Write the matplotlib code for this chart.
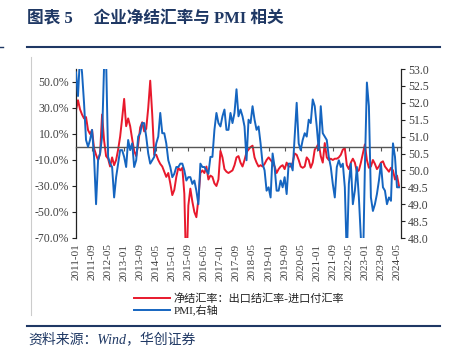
import numpy as np
import pandas as pd
import matplotlib
matplotlib.use("Agg")
import matplotlib.pyplot as plt
from matplotlib.lines import Line2D

#=== Data ===
months = [p.strftime("%Y-%m") for p in pd.period_range("2011-01", "2024-06", freq="M")]

net_settle = [
    28, 36, 29, 25, 22, 23, 13, 10, 13, -1, -6, -10,
    -5, 25, 5, -7, -9, -15, -8, -14, -10, -2, 8, 22,
    37, 16, 22, 16, 6, -3, -7, 2, 15, 19, 12, 14,
    30, 51, 25, -6, -6, -10, -13, -15, -19, -23, -20, -28,
    -37, -33, -23, -16, -18, -16, -36, -100, -45, -32, -42, -50,
    -54, -40, -20, -18, -20, -15, -25, -22, -23, -28, -30, -25,
    -3, -8, -17, -19, -20, -19, -18, -14, -8, -7, -12, -15,
    -10, -4, -2, 0, 1, -8, -12, -15, -14, -15, -13, -10,
    -8, -10, -12, -15, -20, -17, -15, -14, -17, -12, -15, -15,
    -12, -5, -6, -10, -15, -16, -15, -8, -10, -16, -12, -2,
    0, 3, -7, -12, 3, -8, -10, -9, -10, -9, -9, -8,
    -6, -2, -1, -14, -17, -12, -9, -12, -19, -18, -12, -5,
    2, -10, -16, -15, -10, -13, -17, -15, -12, -11, -15, -17,
    -19, -16, -18, -25, -22, -30,
]

pmi = [
    52.9, 52.2, 53.4, 52.9, 52.0, 50.9, 50.7, 50.9, 51.2, 50.4, 49.0, 50.3,
    50.5, 51.0, 53.1, 53.3, 50.4, 50.2, 50.1, 49.2, 49.8, 50.2, 50.6, 50.6,
    50.4, 50.1, 50.9, 50.6, 50.8, 50.1, 50.3, 51.0, 51.1, 51.4, 51.4, 51.0,
    50.5, 50.2, 50.3, 50.4, 50.8, 51.0, 51.7, 51.1, 51.1, 50.8, 50.3, 50.1,
    49.8, 49.9, 50.1, 50.1, 50.2, 50.2, 50.0, 49.7, 49.8, 49.8, 49.6, 49.7,
    49.4, 49.0, 50.2, 50.1, 50.1, 50.0, 49.9, 50.4, 50.4, 51.2, 51.7, 51.4,
    51.3, 51.6, 51.8, 51.2, 51.2, 51.7, 51.4, 51.7, 52.4, 51.6, 51.8, 51.6,
    51.3, 50.3, 51.5, 51.4, 51.9, 51.5, 51.2, 51.3, 50.8, 50.2, 50.0, 49.4,
    49.5, 49.2, 50.5, 50.1, 49.4, 49.4, 49.7, 49.5, 49.8, 49.3, 50.2, 50.2,
    50.0, np.nan, 52.0, 50.8, 50.6, 50.9, 51.1, 51.0, 51.5, 51.4, 52.1, 51.9,
    51.3, 50.6, 51.9, 51.1, 51.0, 50.9, 50.4, 50.1, 49.6, 49.2, 50.1, 50.3,
    50.1, 50.2, 49.5, 47.4, 49.6, 50.2, 49.0, 49.4, 50.1, 49.2, 48.0, 47.0,
    50.1, 52.6, 51.9, 49.2, 48.8, 49.0, 49.3, 49.7, 50.2, 49.5, 49.4, 49.0,
    49.2, 49.1, 50.8, 50.4, 49.5, 49.5,
]

left_ticks = [-70, -50, -30, -10, 10, 30, 50]
right_ticks = [48.0, 48.5, 49.0, 49.5, 50.0, 50.5, 51.0, 51.5, 52.0, 52.5, 53.0]
label_every = 8

#=== Style ===
NAVY = "#1f3864"
RED = "#e8192c"
BLUE = "#1565c0"
TICK_C = "#404040"
SERIF = "Liberation Serif"
CJK = ["Liberation Serif", "Noto Sans CJK SC"]

x = np.arange(len(months))
pmi_s = pd.Series(pmi, index=x).dropna()   # 2020-02 missing, line is connected

fig = plt.figure(figsize=(4.5, 3.62), dpi=100, facecolor="white")
ax = fig.add_axes([76/450, 1-238/362, 325/450, 169/362])
ax2 = ax.twinx()

ax.plot(x, net_settle, color=RED, lw=1.4, zorder=2)
ax2.plot(pmi_s.index, pmi_s.values, color=BLUE, lw=1.4, zorder=3)

ax.set_xlim(0, len(months))
ax.set_ylim(-70, 60)
ax2.set_ylim(48, 53)

# left axis
ax.set_yticks(left_ticks)
ax.set_yticklabels([f"{v:.1f}%" for v in left_ticks], fontfamily=SERIF, fontsize=8.5, color=TICK_C)
ax.tick_params(axis="y", direction="out", length=3, width=0.8, color="#222222", pad=2)
ax.spines["top"].set_visible(False)
ax.spines["right"].set_visible(False)
ax.spines["left"].set_color("#222222")
ax.spines["left"].set_linewidth(0.9)

# category axis crosses at 0, labels sit at the bottom
ax.spines["bottom"].set_position(("data", 0))
ax.spines["bottom"].set_color("#555555")
ax.spines["bottom"].set_linewidth(1.0)
tick_pos = x[::label_every]
ax.set_xticks(tick_pos)
ax.tick_params(axis="x", direction="out", length=3, width=0.8, color="#555555", labelbottom=False)

sec = ax.secondary_xaxis("bottom")
sec.set_xticks(tick_pos)
sec.set_xticklabels([months[i] for i in tick_pos], rotation=90, fontfamily=SERIF, fontsize=8, color=TICK_C)
sec.tick_params(axis="x", length=0, pad=4)
sec.spines["bottom"].set_visible(False)

# right axis
ax2.set_yticks(right_ticks)
ax2.set_yticklabels([f"{v:.1f}" for v in right_ticks], fontfamily=SERIF, fontsize=8.5, color=TICK_C)
ax2.tick_params(axis="y", direction="out", length=3, width=0.8, color="#222222", pad=2)
for s in ["top", "left", "bottom"]:
    ax2.spines[s].set_visible(False)
ax2.spines["right"].set_color("#222222")
ax2.spines["right"].set_linewidth(0.9)

# legend
handles = [Line2D([], [], color=RED, lw=1.4), Line2D([], [], color=BLUE, lw=1.4)]
labels = ["净结汇率：出口结汇率-进口付汇率", "PMI,右轴"]
leg = fig.legend(handles, labels, loc="upper left", bbox_to_anchor=(128/450, 1-288/362),
                 frameon=False, handlelength=3.3, handletextpad=0.3, labelspacing=0.05,
                 borderpad=0, prop={"family": CJK, "size": 8})
for t in leg.get_texts():
    t.set_color("#222222")

# page furniture: title, rules, source
fig.text(27/450, 1-19/362, "图表 5\u3000 企业净结汇率与 PMI 相关", fontfamily=CJK, fontweight="bold",
         fontsize=12, color=NAVY, va="center", ha="left")
fig.add_artist(Line2D([27/450, 440/450], [1-47/362, 1-47/362], color=NAVY, lw=1.5))
fig.add_artist(Line2D([0, 3/450], [1-47/362, 1-47/362], color=NAVY, lw=1.0))
fig.add_artist(Line2D([30.5/450, 30.5/450], [1-57/362, 1-315/362], color="#cccccc", lw=0.8))
fig.add_artist(Line2D([27/450, 440/450], [1-326/362, 1-326/362], color=NAVY, lw=1.5))
fig.text(28/450, 1-339/362, "资料来源：Wind，华创证券", fontfamily=CJK, fontstyle="italic",
         fontsize=10, color=NAVY, va="center", ha="left")

fig.savefig("out.png", dpi=100, facecolor="white")
